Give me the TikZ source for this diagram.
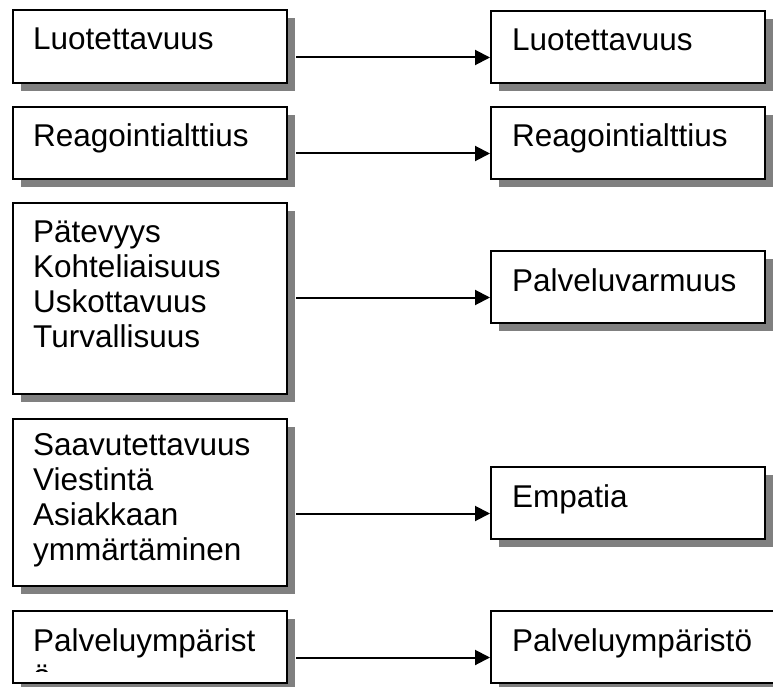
\documentclass[tikz,border=0pt]{standalone}
\usepackage{fontspec}
\setmainfont{Liberation Sans}
\usetikzlibrary{shadows,arrows.meta,positioning,calc}
\definecolor{shadowgray}{RGB}{128,128,128}

\tikzset{
    box/.style={draw, line width=2.2pt, fill=white, anchor=north west, inner sep=0pt,
        drop shadow={shadow xshift=8pt, shadow yshift=-8pt, fill=shadowgray, opacity=1}},
    txt/.style={anchor=base west, align=left, inner sep=0pt,
        font=\fontsize{31.5}{35}\selectfont},
    flow/.style={-{Triangle[length=15pt,width=15pt]}, line width=2pt}
}

\begin{document}
\begin{tikzpicture}[x=1pt,y=-1pt]
    \useasboundingbox (0,0) rectangle (773,687);

    % Left column
    \foreach \n/\y/\h in {l1/9/73,l2/106/72,l3/202/191,l4/418/167,l5/610/72} {
        \node[box, minimum width=274, minimum height=\h] (\n) at (12,\y) {};
    }
    % (base of a multi-line text is its last line)
    \node[txt] (t1) at ($(l1.north west)+(21pt,-41pt)$) {Luotettavuus};
    \node[txt] (t2) at ($(l2.north west)+(21pt,-41pt)$) {Reagointialttius};
    \node[txt] (t3) at ($(l3.north west)+(21pt,-145pt)$)
        {Pätevyys\\Kohteliaisuus\\Uskottavuus\\Turvallisuus};
    \node[txt] (t4) at ($(l4.north west)+(21pt,-142pt)$)
        {Saavutettavuus\\Viestintä\\Asiakkaan\\ymmärtäminen};
    \begin{scope}
        \clip (l5.north west) rectangle ($(l5.south east)+(0pt,12.5pt)$);
        \node[txt] (t5) at ($(l5.north west)+(21pt,-76pt)$) {Palveluympärist\\ö};
    \end{scope}

    % Right column
    \foreach \n/\y/\w/\t in {r1/10/274/Luotettavuus,r2/106/274/Reagointialttius,
            r3/250/274/Palveluvarmuus,r4/466/274/Empatia,r5/610/300/Palveluympäristö} {
        \node[box, minimum width=\w, minimum height=72] (\n) at (490,\y) {};
        \node[txt] at ($(\n.north west)+(22pt,-41pt)$) {\t};
    }

    % Arrows
    \foreach \i in {1,...,5} {
        \draw[flow] ($(l\i.east |- r\i.north west)+(8pt,-47.5pt)$)
            -- ($(r\i.north west)+(0pt,-47.5pt)$);
    }
\end{tikzpicture}
\end{document}
